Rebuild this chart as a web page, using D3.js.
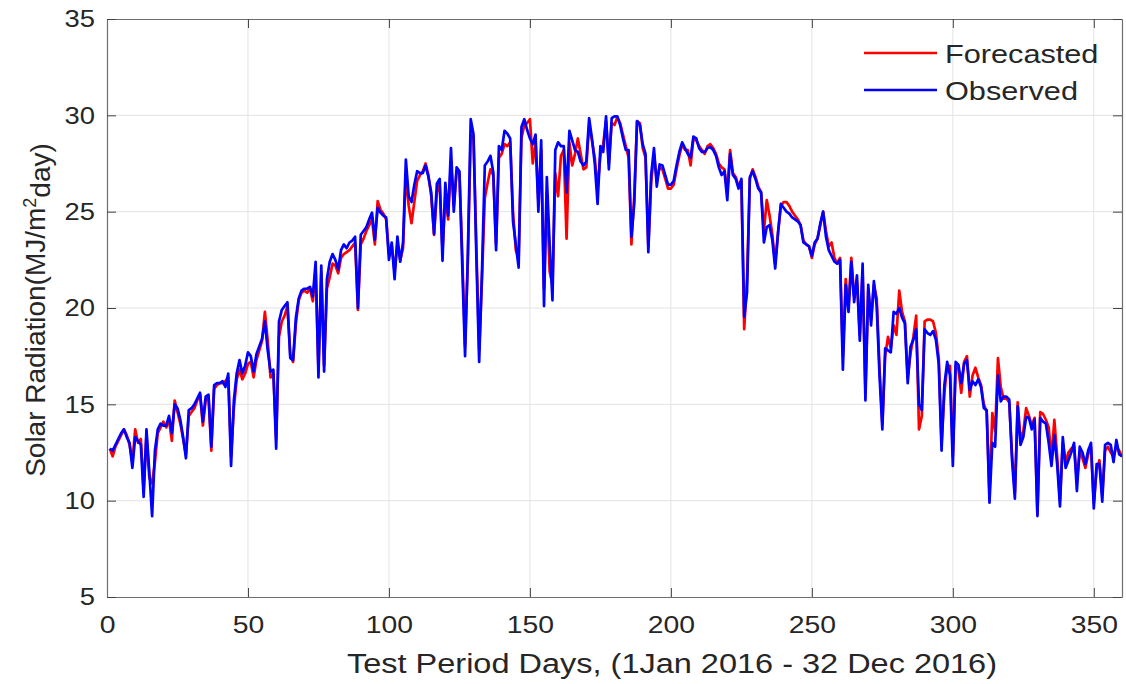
<!DOCTYPE html>
<html><head><meta charset="utf-8">
<script src="https://cdn.jsdelivr.net/npm/d3@7"></script>
<style>body{margin:0;background:#fff}svg{display:block}text{font-family:"Liberation Sans",Arial,sans-serif;fill:#262626}</style>
</head><body><svg id="c" width="1126" height="684"></svg>
<script>
const observed = [
12.7,12.6,12.9,13.2,13.5,13.7,13.3,13.0,11.7,13.3,13.1,12.9,10.2,13.7,11.5,9.2,12.6,13.7,14.0,13.9,
13.9,14.4,13.5,15.0,14.8,14.2,13.3,12.2,14.7,14.8,15.0,15.3,15.6,14.1,15.4,15.5,12.8,16.0,16.1,16.1,
16.2,15.9,16.6,11.8,15.2,16.6,17.3,16.6,17.0,17.7,17.5,16.7,17.6,18.0,18.4,19.3,17.8,16.7,16.8,12.7,
19.3,19.9,20.1,20.3,17.4,17.3,19.5,20.5,20.9,21.0,21.0,21.1,20.6,22.4,16.4,22.2,16.7,21.5,22.4,22.8,
22.5,22.0,23.0,23.3,23.1,23.4,23.5,23.7,20.0,23.8,24.0,24.2,24.6,24.95,23.55,25.2,24.95,24.8,24.7,22.5,
23.4,21.5,23.7,22.4,23.4,27.7,25.8,25.5,26.4,27.1,27.0,27.0,27.4,26.8,26.0,23.85,26.45,26.7,22.45,26.5,
24.8,28.3,25.0,27.3,27.1,22.2,17.5,22.9,29.8,29.0,22.7,17.2,21.9,27.4,27.6,27.9,27.05,23.0,28.4,28.2,
29.2,29.05,28.8,24.5,23.3,22.1,29.4,29.8,29.25,28.8,28.5,29.0,25.0,28.7,20.1,26.8,23.3,20.4,28.2,28.6,
28.4,28.4,26.0,29.2,28.7,28.2,28.1,27.6,27.4,27.6,29.85,28.8,27.5,25.4,28.4,28.1,29.95,27.2,29.85,29.95,
29.95,29.5,28.8,28.2,28.2,23.7,25.4,29.7,29.5,28.5,28.0,22.9,26.9,28.3,26.3,27.45,27.4,26.9,26.4,26.4,
26.6,27.4,28.1,28.6,28.3,28.0,27.8,28.9,28.8,28.3,28.1,28.1,28.3,28.35,28.2,27.9,27.3,26.9,27.1,25.6,
28.0,26.9,26.7,26.2,26.7,19.55,20.8,26.8,27.1,26.7,26.2,26.0,23.4,24.2,24.3,23.5,22.05,23.9,25.4,25.2,
25.0,24.9,24.7,24.6,24.5,24.3,23.4,23.3,23.2,22.7,23.4,23.6,24.4,25.0,23.7,23.0,22.7,22.4,22.3,22.5,
16.8,21.2,19.8,22.4,20.3,21.7,18.3,22.3,15.2,21.2,19.1,21.4,20.1,16.5,13.7,17.9,17.8,17.7,19.8,19.7,
20.0,19.5,19.2,16.1,18.0,18.35,18.9,15.0,14.7,18.9,18.7,18.6,18.8,18.35,17.1,12.6,16.0,17.2,16.5,11.8,
17.2,17.05,16.1,17.1,17.3,15.75,16.2,16.0,16.3,15.9,14.8,14.7,9.9,13.0,12.8,16.5,15.15,15.4,15.4,15.25,
12.1,10.1,14.9,12.9,13.3,14.35,14.3,13.7,14.2,9.2,14.3,14.1,14.0,13.0,11.8,13.4,11.9,9.7,13.3,11.7,
12.1,12.5,13.0,10.5,12.8,12.5,11.9,12.6,13.0,9.6,11.9,11.9,9.95,12.9,13.0,12.9,12.0,13.15,12.4,12.3
];
const forecasted = [
12.7,12.3,12.8,13.1,13.4,13.7,13.4,12.9,12.0,13.7,13.0,13.2,10.6,13.4,11.2,10.9,12.0,13.5,13.8,14.1,
13.8,14.2,13.1,15.2,14.6,14.0,13.2,12.4,14.4,14.6,14.8,15.2,15.5,13.9,15.2,15.4,12.6,15.8,16.0,16.1,
16.1,16.2,16.4,12.3,14.8,16.3,16.8,16.3,16.6,17.1,17.2,16.4,17.3,17.8,18.3,19.8,18.3,16.4,16.6,13.2,
18.5,19.3,19.6,20.1,17.6,17.2,19.2,20.4,20.8,20.9,20.8,21.0,20.35,22.0,16.8,21.8,17.0,21.0,21.6,22.3,
22.2,21.8,22.6,22.8,22.9,23.0,23.2,23.4,19.9,23.3,23.6,24.0,24.3,24.6,23.3,25.55,25.1,24.9,24.6,22.8,
23.2,21.9,23.3,22.5,23.1,27.0,25.3,24.4,25.5,26.6,26.9,27.1,27.5,26.9,25.8,23.8,26.0,26.4,23.0,25.8,
24.6,27.6,25.3,27.1,27.0,22.8,18.0,22.5,29.0,28.8,23.2,17.8,21.5,25.7,26.5,27.2,26.9,23.3,27.8,28.0,
28.5,28.4,28.6,25.0,23.0,22.6,28.8,29.5,29.6,29.8,27.5,28.6,25.5,28.2,21.0,26.0,21.9,21.2,27.0,25.8,
27.9,28.2,23.6,28.6,27.4,28.0,28.8,28.0,27.2,27.3,29.5,28.7,27.8,26.2,27.9,28.5,29.7,27.5,29.6,29.5,
29.9,29.6,29.0,28.4,27.8,23.3,25.8,29.7,29.6,28.3,27.8,23.2,26.5,28.0,26.6,27.3,27.2,26.7,26.2,26.2,
26.4,27.2,27.9,28.5,28.2,28.2,27.4,28.8,28.7,28.4,28.2,28.0,28.4,28.5,28.3,28.0,27.5,27.3,27.2,26.0,
28.2,27.0,26.8,26.3,26.6,18.9,21.5,26.7,27.2,26.8,26.3,26.0,24.0,25.6,24.8,23.8,22.3,23.9,25.3,25.5,
25.5,25.3,25.0,24.8,24.6,24.3,23.5,23.3,23.2,22.6,23.3,23.6,24.3,25.0,24.0,23.2,23.4,22.6,22.3,22.6,
17.5,21.5,20.1,22.6,20.6,21.4,18.6,21.9,15.6,21.0,19.4,21.2,20.5,16.9,14.0,17.5,18.5,17.9,19.1,18.6,
20.9,19.8,19.3,16.4,17.65,18.5,19.6,13.7,14.4,19.3,19.4,19.4,19.3,18.7,17.4,13.0,15.6,17.0,17.0,12.3,
17.0,16.8,15.6,17.2,17.5,15.4,16.5,16.9,16.4,16.0,15.0,14.6,10.3,14.55,13.6,17.4,15.9,15.3,15.3,15.1,
12.4,10.4,15.1,13.2,13.6,14.8,14.4,13.9,14.3,9.3,14.6,14.5,14.2,13.8,12.2,14.2,12.3,10.0,13.0,12.0,
12.5,12.7,12.8,11.0,12.5,12.2,11.7,12.4,12.8,9.9,11.6,12.1,10.3,12.6,12.8,12.5,12.3,12.8,12.6,12.3
];
const xTicks = [0,50,100,150,200,250,300,350];
const yTicks = [5,10,15,20,25,30,35];
const seriesNames = ["Forecasted","Observed"];
const seriesColors = ["#ff0000","#0000ff"];

const svg = d3.select("#c");
const L=107,R=1122,T=19,B=597;
const x = d3.scaleLinear().domain([0,360]).range([L,R]);
const y = d3.scaleLinear().domain([5,35]).range([B,T]);

// grid
const g = svg.append("g");
g.selectAll(".gx").data(xTicks.filter(d=>d>0)).enter().append("line")
 .attr("x1",d=>x(d)).attr("x2",d=>x(d)).attr("y1",T).attr("y2",B)
 .attr("stroke","#e3e3e3").attr("stroke-width",1);
g.selectAll(".gy").data(yTicks.filter(d=>d>5&&d<35)).enter().append("line")
 .attr("x1",L).attr("x2",R).attr("y1",d=>y(d)).attr("y2",d=>y(d))
 .attr("stroke","#e3e3e3").attr("stroke-width",1);

// lines
const line = d3.line().x((d,i)=>x(i+1)).y(d=>y(d));
[forecasted, observed].forEach((s,k)=>{
  svg.append("path").datum(s).attr("d",line).attr("fill","none")
   .attr("stroke",seriesColors[k]).attr("stroke-width",2.7).attr("stroke-linejoin","round");
});

// axes (inward ticks)
const ax = svg.append("g").attr("transform",`translate(0,${B})`)
 .call(d3.axisBottom(x).tickValues(xTicks).tickSizeInner(-9).tickSizeOuter(0).tickPadding(16));
const axTop = svg.append("g").attr("transform",`translate(0,${T})`)
 .call(d3.axisTop(x).tickValues(xTicks).tickSizeInner(-9).tickSizeOuter(0).tickFormat(""));
const ay = svg.append("g").attr("transform",`translate(${L},0)`)
 .call(d3.axisLeft(y).tickValues(yTicks).tickSizeInner(-9).tickSizeOuter(0).tickPadding(14));
const ayR = svg.append("g").attr("transform",`translate(${R},0)`)
 .call(d3.axisRight(y).tickValues(yTicks).tickSizeInner(-9).tickSizeOuter(0).tickFormat(""));
[ax,axTop,ay,ayR].forEach(a=>{
  a.select(".domain").attr("stroke","#6e6e6e").attr("stroke-width",1.2);
  a.selectAll(".tick line").attr("stroke","#444");
  a.selectAll(".tick text").style("font-size","24px").attr("fill","#262626")
   .style("font-family","'Liberation Sans',Arial,sans-serif");
});
ax.selectAll(".tick text").attr("dy","0.85em").attr("transform","scale(1.18,1)");
ay.selectAll(".tick text").attr("x",-12/1.14).attr("transform","scale(1.14,1)");

// axis labels
svg.append("text").attr("x",672).attr("y",673).attr("text-anchor","middle")
 .attr("textLength",650).attr("lengthAdjust","spacingAndGlyphs")
 .style("font-size","27px").text("Test Period Days, (1Jan 2016 - 32 Dec 2016)");
const yl = svg.append("text").attr("transform",`translate(45,${(T+B)/2 + 2}) rotate(-90)`)
 .attr("text-anchor","middle").style("font-size","28px");
yl.append("tspan").text("Solar Radiation(MJ/m");
yl.append("tspan").attr("dy","-0.5em").style("font-size","18px").text("2");
yl.append("tspan").attr("dy","0.5em").text("day)");

// legend
const lg = svg.append("g");
seriesNames.forEach((n,k)=>{
  const yy = 53 + k*37;
  lg.append("line").attr("x1",864).attr("x2",937).attr("y1",yy).attr("y2",yy)
   .attr("stroke",seriesColors[k]).attr("stroke-width",2.7);
  lg.append("text").attr("transform",`translate(945,${yy+10}) scale(1.18,1)`)
   .style("font-size","26px").text(n);
});
</script></body></html>
